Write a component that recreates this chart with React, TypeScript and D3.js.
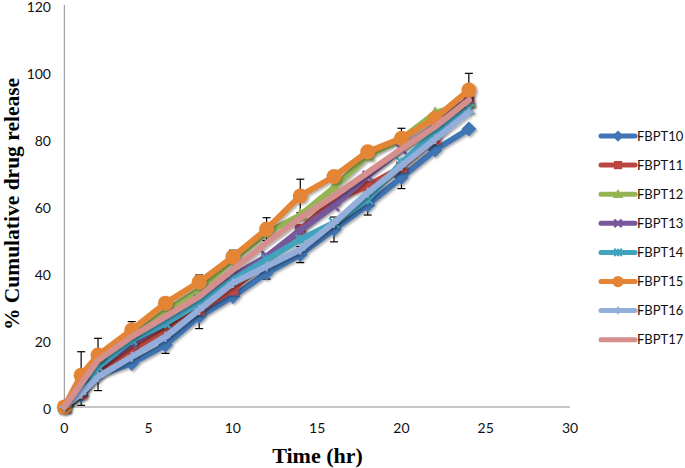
import React from "react";
import * as d3 from "d3";

const times = [0, 1, 2, 4, 6, 8, 10, 12, 14, 16, 18, 20, 22, 24];
const seriesNames = ["FBPT10", "FBPT11", "FBPT12", "FBPT13", "FBPT14", "FBPT15", "FBPT16", "FBPT17"];
const fbpt10 = [0, 3.5, 9.5, 13, 18.5, 27, 33, 40, 45.5, 53, 60.3, 68.5, 76.7, 83];
const fbpt11 = [0, 4, 11, 17, 23, 29, 35, 44, 53, 61.8, 66, 71.6, 80, 91];
const fbpt12 = [0, 7, 14, 21, 28.5, 35, 43.9, 52, 57.3, 65.5, 75, 80, 87.7, 91];
const fbpt13 = [0, 5, 12, 19, 25, 32, 39, 45, 52.8, 60, 69, 77, 84, 92];
const fbpt14 = [0, 5, 12, 20, 25, 31, 38, 44, 50, 55, 62, 73, 82, 89];
const fbpt15 = [0, 9.5, 15.5, 23, 31, 37.3, 44.8, 53.1, 63, 68.8, 76.2, 80.2, 86.2, 94.6];
const fbpt16 = [0, 4, 9, 15, 21, 29, 37, 42, 47, 55, 64, 72, 80, 88];
const fbpt17 = [0, 7, 14, 21, 27, 33, 41, 49, 56.4, 63, 70, 77, 83.7, 91.6];
const err10 = [0, 3, 4.6, 0, 2.5, 3.6, 0, 1.8, 2.4, 3.7, 3, 3.3, 0, 0];
const err15 = [0, 7, 5, 2.5, 0, 2.1, 2, 3.4, 5, 0, 0, 3, 0, 5];
const xTicks = [0, 5, 10, 15, 20, 25, 30];
const yTicks = [0, 20, 40, 60, 80, 100, 120];

const allValues = [fbpt10, fbpt11, fbpt12, fbpt13, fbpt14, fbpt15, fbpt16, fbpt17];
const colors = ["#4174B4", "#BC4643", "#95B554", "#77589B", "#42A3BF", "#E48436", "#93AEDA", "#D58F8D"];
const markers = ["diamond", "square", "triangle", "x", "star", "circle", "plus", "none"];

const W = 685, H = 468;
const x = d3.scaleLinear().domain([0, 30]).range([64.3, 570]);
const y = d3.scaleLinear().domain([0, 120]).range([407, 5]);

function Marker({ type, cx, cy, color, legend }: { type: string; cx: number; cy: number; color: string; legend?: boolean }) {
  const s = legend ? 0.75 : 1;
  switch (type) {
    case "diamond": {
      const r = 7.5 * s;
      return <path d={`M${cx},${cy - r}L${cx + r},${cy}L${cx},${cy + r}L${cx - r},${cy}Z`} fill={color} />;
    }
    case "square": {
      const r = 5.5 * s;
      return <rect x={cx - r} y={cy - r} width={2 * r} height={2 * r} fill={color} />;
    }
    case "triangle": {
      const r = 7 * s;
      return <path d={`M${cx},${cy - r}L${cx + r},${cy + r * 0.7}L${cx - r},${cy + r * 0.7}Z`} fill={color} />;
    }
    case "x": {
      const r = 5 * s;
      return <path d={`M${cx - r},${cy - r}L${cx + r},${cy + r}M${cx - r},${cy + r}L${cx + r},${cy - r}`} stroke={color} strokeWidth={2.5} />;
    }
    case "star": {
      const r = 5 * s;
      return <path d={`M${cx - r},${cy - r}L${cx + r},${cy + r}M${cx - r},${cy + r}L${cx + r},${cy - r}M${cx},${cy - r}L${cx},${cy + r}`} stroke={color} strokeWidth={2} />;
    }
    case "circle":
      return <circle cx={cx} cy={cy} r={7.5 * s} fill={color} />;
    case "plus": {
      const r = 5 * s;
      return <path d={`M${cx - r},${cy}L${cx + r},${cy}M${cx},${cy - r}L${cx},${cy + r}`} stroke={color} strokeWidth={2} />;
    }
    default:
      return null;
  }
}

export default function App() {
  const line = d3.line<number>().x((_, i) => x(times[i])).y((v) => y(v));
  const errSets: [number[], number[]][] = [[fbpt10, err10], [fbpt15, err15]];
  return (
    <svg width={W} height={H} style={{ position: "absolute", left: 0, top: 0, background: "#fff" }}>
      <defs>
        <filter id="sh" x="-20%" y="-20%" width="140%" height="140%">
          <feDropShadow dx="1.5" dy="1.5" stdDeviation="1.2" floodColor="#000" floodOpacity="0.35" />
        </filter>
      </defs>
      <rect width={W} height={H} fill="#fff" />
      {/* axes */}
      <line x1={x(0)} x2={x(0)} y1={y(120)} y2={y(0)} stroke="#8c8c8c" strokeWidth={1} />
      <line x1={x(0)} x2={x(30)} y1={y(0)} y2={y(0)} stroke="#8c8c8c" strokeWidth={1} />
      {yTicks.map((t) => (
        <text key={"y" + t} x={51} y={y(t) + 2} dy="0.35em" textAnchor="end" fontFamily="Lato, 'Open Sans', sans-serif" fontSize={14} fill="#111">{t}</text>
      ))}
      {xTicks.map((t) => (
        <text key={"x" + t} x={x(t)} y={428} dy="0.35em" textAnchor="middle" fontFamily="Lato, 'Open Sans', sans-serif" fontSize={14} fill="#111">{t}</text>
      ))}
      <text x={317.5} y={463} textAnchor="middle" fontFamily="'Liberation Serif', 'Times New Roman', serif" fontWeight="bold" fontSize={22} fill="#000">Time (hr)</text>
      <text transform={`translate(19,204) rotate(-90)`} textAnchor="middle" fontFamily="'Liberation Serif', 'Times New Roman', serif" fontWeight="bold" fontSize={21.5} fill="#000">% Cumulative drug release</text>
      {/* error bars */}
      {errSets.map(([vals, errs], si) => (
        <g key={"e" + si} stroke="#000" strokeWidth={1.2}>
          {errs.map((e, i) => e > 0 ? (
            <g key={i}>
              <line x1={x(times[i])} x2={x(times[i])} y1={y(vals[i] - e)} y2={y(vals[i] + e)} />
              <line x1={x(times[i]) - 4} x2={x(times[i]) + 4} y1={y(vals[i] - e)} y2={y(vals[i] - e)} />
              <line x1={x(times[i]) - 4} x2={x(times[i]) + 4} y1={y(vals[i] + e)} y2={y(vals[i] + e)} />
            </g>
          ) : null)}
        </g>
      ))}
      {/* series */}
      {allValues.map((vals, si) => (
        <g key={seriesNames[si]} filter="url(#sh)">
          <path d={line(vals) || ""} fill="none" stroke={colors[si]} strokeWidth={6} strokeLinejoin="round" strokeLinecap="round" />
          {vals.map((v, i) => (
            <Marker key={i} type={markers[si]} cx={x(times[i])} cy={y(v)} color={colors[si]} />
          ))}
        </g>
      ))}
      {/* legend */}
      {seriesNames.map((n, i) => {
        const ly = 136 + i * 29.1;
        return (
          <g key={"l" + n}>
            <line x1={601} x2={635} y1={ly} y2={ly} stroke={colors[i]} strokeWidth={5} strokeLinecap="round" />
            <Marker type={markers[i]} cx={618} cy={ly} color={colors[i]} legend />
            <text x={637} y={ly} dy="0.35em" fontFamily="Lato, 'Open Sans', sans-serif" fontSize={13} fill="#111">{n}</text>
          </g>
        );
      })}
    </svg>
  );
}
